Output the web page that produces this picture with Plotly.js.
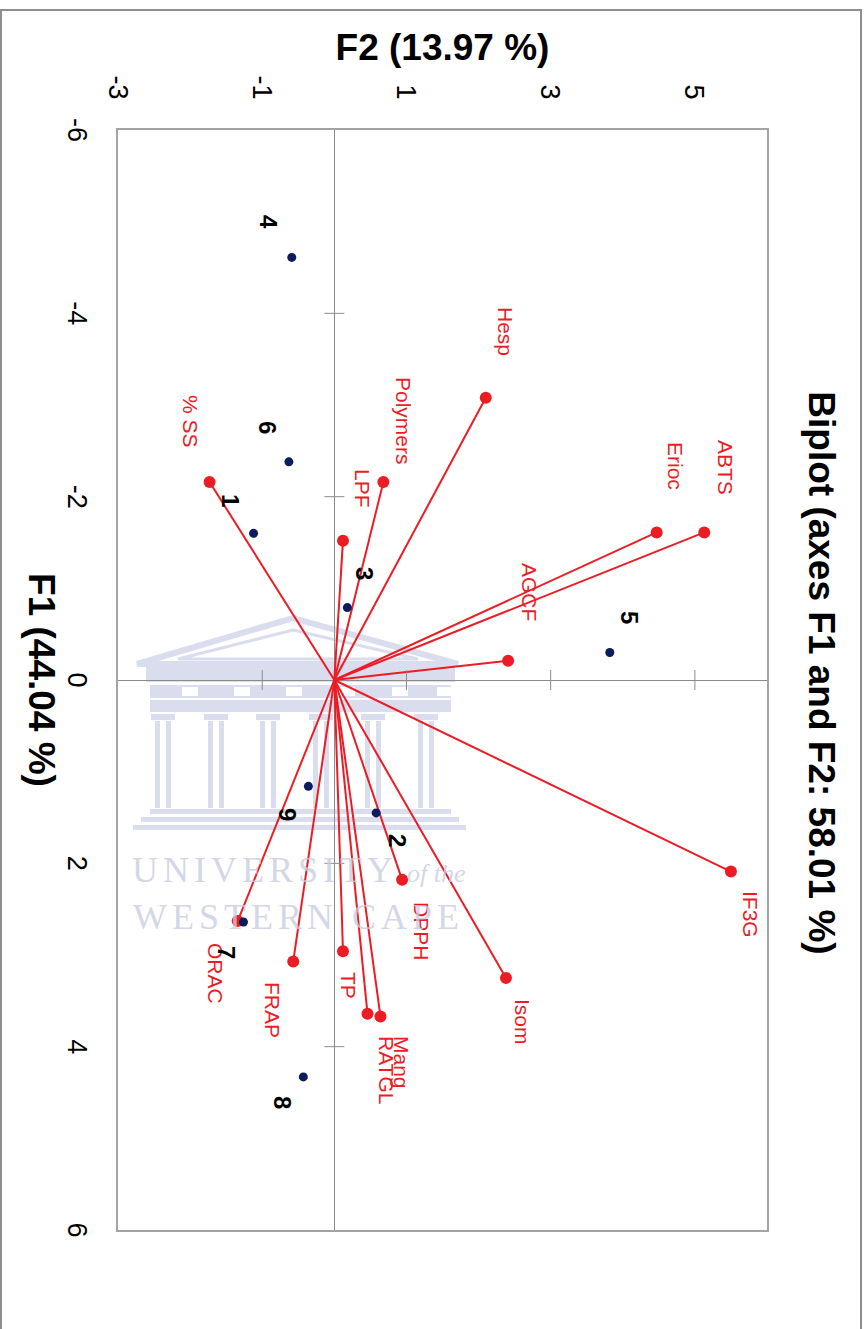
<!DOCTYPE html>
<html><head><meta charset="utf-8">
<script src="https://cdn.plot.ly/plotly-3.0.1.min.js"></script>
<style>
html,body{margin:0;padding:0;background:#fff;overflow:hidden;width:866px;height:1329px;}
#frame{position:absolute;left:0;top:9px;width:858px;height:1340px;border:2px solid #8f8f8f;border-bottom:none;z-index:5;pointer-events:none;}
#wrap{position:absolute;left:0;top:0;width:1329px;height:866px;transform-origin:0 0;transform:translate(866px,0) rotate(90deg);z-index:1;}
</style></head><body>
<div id="wrap"><div id="chart" style="width:1329px;height:866px;"></div></div>
<div id="frame"></div>
<script>
// ---- data (F1 = horizontal axis of the biplot, F2 = vertical axis) ----
const obsLabels = ['1','2','3','4','5','6','7','8','9'];
const obsF1 = [-1.60, 1.45, -0.79, -4.61, -0.30, -2.38, 2.64, 4.33, 1.16];
const obsF2 = [-1.12, 0.58, 0.18, -0.59, 3.82, -0.63, -1.26, -0.43, -0.36];

const varLabels = ['Hesp','ABTS','Erioc','AGCF','Polymers','LPF','% SS','IF3G','Isom','DPPH','ORAC','FRAP','TP','Mang','RATGL'];
const varF1 = [-3.08, -1.61, -1.61, -0.21, -2.16, -1.52, -2.16, 2.09, 3.25, 2.18, 2.63, 3.07, 2.96, 3.67, 3.64];
const varF2 = [ 2.10,  5.13,  4.47,  2.41,  0.68,  0.12, -1.73, 5.50, 2.38, 0.94, -1.34, -0.57, 0.12, 0.64, 0.46];

const f1Ticks = [-6,-4,-2,0,2,4,6];
const f2Ticks = [-3,-1,1,3,5];

const chartTitle = 'Biplot (axes F1 and F2: 58.01 %)';
const f1Title = 'F1 (44.04 %)';
const f2Title = 'F2 (13.97 %)';

// ---- label offsets (style, px): [across, along] ----
const varOff = [[20,-66],[21,-65],[19,-66],[21,-69],[20,-61],[20,-52],[-19,-61],[20,43],[17,44],[19,51],[-22,52],[-21,49],[6,34],[21,46],[19,56]];
const obsOff = [[-23,-33],[21,28],[17,-34],[-23,-35],[20,-35],[-21,-34],[-17,30],[-21,26],[-21,28]];

const FONT = 'Liberation Sans, Arial, sans-serif';
const RED = '#ec1c24';
const NAVY = '#0c1a5e';
const WM = '#dadded';

// vector lines from origin
const lx = [], ly = [];
varF1.forEach((v,i)=>{ lx.push(0, v, null); ly.push(0, varF2[i], null); });

const traces = [
  {type:'scatter', mode:'lines', x:lx, y:ly, line:{color:RED, width:2}, hoverinfo:'skip', showlegend:false},
  {type:'scatter', mode:'markers', x:varF1, y:varF2, text:varLabels, marker:{color:RED, size:12}, showlegend:false},
  {type:'scatter', mode:'markers', x:obsF1, y:obsF2, text:obsLabels, marker:{color:NAVY, size:9}, showlegend:false}
];

const annotations = [];
varLabels.forEach((t,i)=>annotations.push({x:varF1[i], y:varF2[i], xref:'x', yref:'y', text:t, showarrow:false,
  xshift:varOff[i][1], yshift:varOff[i][0], xanchor:'center', yanchor:'middle', font:{family:FONT, size:21, color:RED}}));
obsLabels.forEach((t,i)=>annotations.push({x:obsF1[i], y:obsF2[i], xref:'x', yref:'y', text:'<b>'+t+'</b>', showarrow:false,
  xshift:obsOff[i][1], yshift:obsOff[i][0], xanchor:'center', yanchor:'middle', font:{family:FONT, size:24, color:'#000'}}));

// ---- crossing tick marks on the zero lines ----
const shapes = [];
f1Ticks.filter(t=>t!==0 && Math.abs(t)<6).forEach(t=>shapes.push({type:'line', xref:'x', yref:'y', ysizemode:'pixel', yanchor:0,
  x0:t, x1:t, y0:-10, y1:10, line:{color:'#8c8c8c', width:1}}));
f2Ticks.filter(t=>t>-3 && t!==0).forEach(t=>shapes.push({type:'line', xref:'x', yref:'y', xsizemode:'pixel', xanchor:0,
  y0:t, y1:t, x0:-10, x1:10, line:{color:'#8c8c8c', width:1}}));

// ---- watermark (upright in page coords px -> paper coords) ----
const PX = yf => (yf-130)/1100, PY = xf => (xf-118)/649;
function wmRect(xa,xb,ya,yb,c){ shapes.push({type:'rect', xref:'paper', yref:'paper', layer:'below',
  x0:PX(ya), x1:PX(yb), y0:PY(xa), y1:PY(xb), fillcolor:c||WM, line:{width:0}}); }
function wmPath(pts,w){ shapes.push({type:'path', xref:'paper', yref:'paper', layer:'below',
  path:'M '+pts.map(p=>PX(p[1])+','+PY(p[0])).join(' L ')+' Z', line:{color:WM, width:w}}); }
wmPath([[137,664],[293,618],[458,664]],6);
wmPath([[178,659],[293,630],[418,659]],3);
wmRect(146,455,664,682);
wmRect(150,451,685,698);
[136,190,242,294,347,400,445].forEach(c=>wmRect(c-8,c+8,687,696,'#ffffff'));
wmRect(150,451,700,712);
const cols=[163,216,268,321,373,426];
cols.forEach(c=>{ wmRect(c-12,c+12,714,720); wmRect(c-8,c-3,721,808); wmRect(c+3,c+8,721,808); });
wmRect(150,451,809,814); wmRect(141,459,817,822); wmRect(133,466,825,830);
const wmFont = {family:'Liberation Serif, Times New Roman, serif', size:36, color:'rgba(200,204,226,0.8)'};
annotations.push({xref:'paper', yref:'paper', x:PX(870), y:PY(298), xanchor:'center', yanchor:'middle', textangle:-90, showarrow:false,
  text:'<span style="letter-spacing:5px">UNIVERSITY</span> <span style="font-size:26px;font-style:italic">of the</span>', font:wmFont});
annotations.push({xref:'paper', yref:'paper', x:PX(917), y:PY(298), xanchor:'center', yanchor:'middle', textangle:-90, showarrow:false,
  text:'<span style="letter-spacing:5px">WESTERN CAPE</span>', font:wmFont});

const axisCommon = {showgrid:false, zeroline:true, zerolinecolor:'#8c8c8c', zerolinewidth:1,
  showline:true, mirror:true, linecolor:'#a3a3a3', linewidth:2, ticks:'', tickfont:{family:FONT, size:27, color:'#000'}};

const layout = {
  width:1329, height:866,
  margin:{l:130, r:99, t:99, b:118},
  paper_bgcolor:'#fff', plot_bgcolor:'#fff',
  showlegend:false,
  title:{text:'<b>'+chartTitle+'</b>', font:{family:FONT, size:37, color:'#000'}, xref:'container', yref:'container',
    x:673/1329, y:1-44/866, xanchor:'center', yanchor:'middle'},
  xaxis:Object.assign({}, axisCommon, {range:[-6,6], tickmode:'array', tickvals:f1Ticks, ticktext:f1Ticks.map(String), ticklabelstandoff:16,
    title:{text:'<b>'+f1Title+'</b>', standoff:0, font:{family:FONT, size:37, color:'#000'}}}),
  yaxis:Object.assign({}, axisCommon, {range:[-3,6], tickmode:'array', tickvals:f2Ticks, ticktext:f2Ticks.map(String), ticklabelstandoff:23,
    title:{text:'<b>'+f2Title+'</b>', standoff:4, font:{family:FONT, size:37, color:'#000'}}}),
  shapes:shapes, annotations:annotations
};
Plotly.newPlot('chart', traces, layout, {staticPlot:true, displayModeBar:false});
</script>
</body></html>
